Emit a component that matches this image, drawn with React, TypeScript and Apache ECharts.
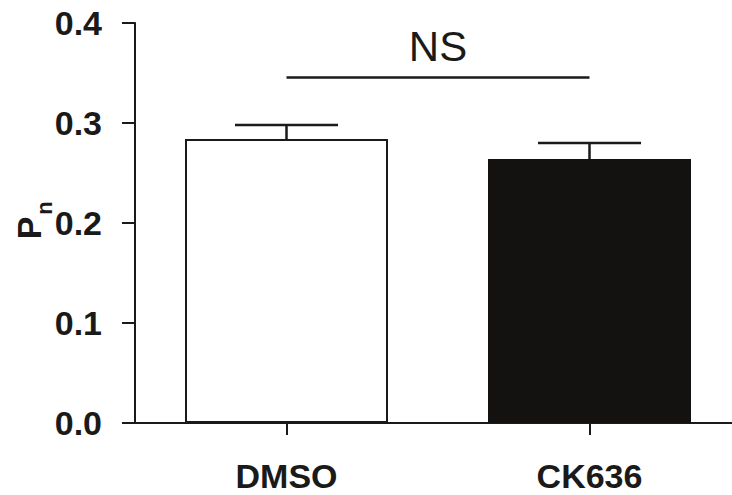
import React, { useEffect, useRef } from "react";
import * as echarts from "echarts";

const categories = ["DMSO", "CK636"];
const means = [0.284, 0.264];
const errors = [0.014, 0.016];
const yTicks = [0.0, 0.1, 0.2, 0.3, 0.4];
const nsLevel = 0.346;
const nsLabel = "NS";

const FONT = "'Liberation Sans', Arial, sans-serif";
const INK = "#1a1a1a";

export default function App() {
  const ref = useRef<HTMLDivElement>(null);
  useEffect(() => {
    if (!ref.current) return;
    const chart = echarts.init(ref.current, undefined, { renderer: "svg" });
    const option: any = {
      animation: false,
      backgroundColor: "#fff",
      grid: {
        left: 135,
        top: 23,
        height: 400,
        width: 606,
        containLabel: false,
        outerBoundsMode: "none",
      },
      xAxis: {
        type: "category",
        data: categories,
        axisLine: { show: true, lineStyle: { color: INK, width: 2 } },
        axisTick: { show: true, alignWithLabel: true, length: 12, lineStyle: { color: INK, width: 2 } },
        axisLabel: { fontFamily: FONT, fontWeight: "bold", fontSize: 34, color: INK, margin: 36 },
        splitLine: { show: false },
      },
      yAxis: {
        type: "value",
        min: yTicks[0],
        max: yTicks[yTicks.length - 1],
        interval: 0.1,
        axisLine: { show: true, lineStyle: { color: INK, width: 2 } },
        axisTick: { show: true, length: 13, lineStyle: { color: INK, width: 2 } },
        axisLabel: {
          fontFamily: FONT,
          fontWeight: "bold",
          fontSize: 34,
          color: INK,
          margin: 33,
          formatter: (v: number) => v.toFixed(1),
        },
        splitLine: { show: false },
      },
      series: [
        {
          type: "bar",
          barWidth: 203,
          data: means.map((m, i) => ({
            value: m,
            itemStyle:
              i === 0
                ? { color: "#ffffff", borderColor: INK, borderWidth: 2 }
                : { color: "#141210", borderColor: "#141210", borderWidth: 2 },
          })),
          markLine: {
            silent: true,
            symbol: "none",
            lineStyle: { color: INK, width: 2.5, type: "solid" },
            label: {
              show: true,
              position: "middle",
              formatter: nsLabel,
              fontFamily: FONT,
              fontSize: 42,
              color: INK,
              distance: 10,
            },
            data: [
              [
                { coord: [categories[0], nsLevel] },
                { coord: [categories[1], nsLevel] },
              ],
            ],
          },
        },
        {
          type: "custom",
          z: 5,
          data: means.map((m, i) => [i, m, errors[i]]),
          renderItem: (params: any, api: any) => {
            const x = api.value(0);
            const m = api.value(1);
            const e = api.value(2);
            const base = api.coord([x, m]);
            const top = api.coord([x, m + e]);
            const half = 51.5;
            return {
              type: "group",
              children: [
                {
                  type: "line",
                  shape: { x1: base[0], y1: base[1], x2: top[0], y2: top[1] },
                  style: { stroke: INK, lineWidth: 2.5 },
                },
                {
                  type: "line",
                  shape: { x1: top[0] - half, y1: top[1], x2: top[0] + half, y2: top[1] },
                  style: { stroke: INK, lineWidth: 2.5 },
                },
              ],
            };
          },
        },
      ],
      graphic: [
        {
          type: "text",
          x: 29,
          y: 228,
          rotation: Math.PI / 2,
          style: {
            text: "P",
            fontFamily: FONT,
            fontWeight: "bold",
            fontSize: 34,
            fill: INK,
            align: "center",
            verticalAlign: "middle",
          },
        },
        {
          type: "text",
          x: 44,
          y: 208,
          rotation: Math.PI / 2,
          style: {
            text: "n",
            fontFamily: FONT,
            fontWeight: "bold",
            fontSize: 22,
            fill: INK,
            align: "center",
            verticalAlign: "middle",
          },
        },
      ],
    };
    chart.setOption(option);
    return () => chart.dispose();
  }, []);
  return (
    <div
      ref={ref}
      style={{ position: "fixed", left: 0, top: 0, width: 732, height: 495 }}
    />
  );
}
